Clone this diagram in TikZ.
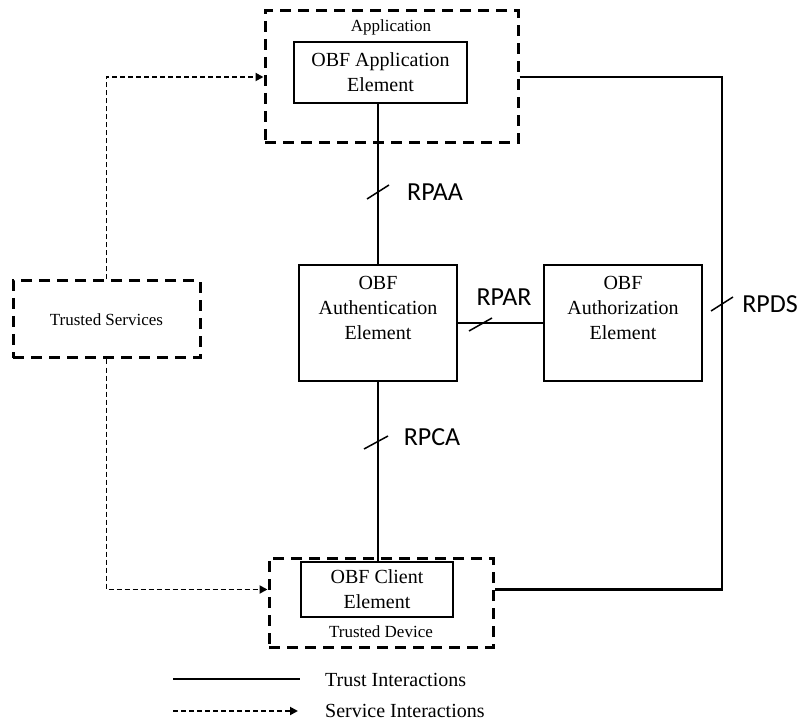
\documentclass[tikz,border=0pt]{standalone}
\usepackage{fontspec}
\setmainfont{Liberation Serif}
\newfontfamily\rplab{Carlito}
\usetikzlibrary{arrows.meta,calc}
\begin{document}
\begin{tikzpicture}[x=1pt,y=-1pt,
  elbox/.style={draw,line width=2pt,inner sep=0pt},
  eltext/.style={align=center,font=\fontsize{20}{25}\selectfont,inner sep=0pt},
  dbox/.style={draw,line width=3pt,dash pattern=on 11pt off 7pt,inner sep=0pt},
  smalltext/.style={font=\fontsize{17}{20}\selectfont,inner sep=0pt},
  trust/.style={line width=2.8pt},
  svc/.style={line width=1.9pt,dash pattern=on 5pt off 3pt,-{Triangle[length=8pt,width=8pt]}},
  tick/.style={line width=1.5pt},
  rp/.style={font=\rplab\fontsize{26}{30}\selectfont,inner sep=0pt}]
\useasboundingbox (0,0) rectangle (804,722);
% containers
\node[dbox,minimum width=253,minimum height=132] (app) at (391.5,77) {};
\node[smalltext] (applab) at (391,27) {Application};
\node[dbox,minimum width=224,minimum height=89] (device) at (381,602.5) {};
\node[smalltext] (devlab) at (381,632) {Trusted Device};
\node[dbox,minimum width=187,minimum height=77] (ts) at (106.5,319.5) {};
\node[smalltext] (tslab) at (106.5,320) {Trusted Services};
% elements
\node[elbox,fill=white,minimum width=173,minimum height=61,eltext] (appel) at (380.5,72.5) {OBF Application\\Element};
\node[elbox,minimum width=158,minimum height=116] (auth) at (378,323) {};
\node[eltext] (authtxt) at (378,308) {OBF\\Authentication\\Element};
\node[elbox,minimum width=158,minimum height=116] (authz) at (623,323) {};
\node[eltext] (authztxt) at (623,308) {OBF\\Authorization\\Element};
\node[elbox,fill=white,minimum width=152,minimum height=55,eltext] (client) at (377,589.5) {OBF Client\\Element};
% trust connectors
\draw[trust] (auth.north) -- (auth.north |- appel.south);
\draw[trust] (auth.south) -- (auth.south |- client.north);
\draw[trust] (auth.east) -- (authz.west);
\coordinate (rpx) at (722,0);
\draw[trust] (app.east) -| (rpx |- client.east) -- (device.east |- client.east);
% service connectors
\draw[svc] (ts.north) |- (app.west);
\draw[svc] (ts.south) |- (device.west |- client.east);
% ticks and labels
\draw[tick] (367,199) -- (389,185);
\node[rp] (rpaa) at (435,192) {RPAA};
\draw[tick] (469,331) -- (492,318);
\node[rp] (rpar) at (504,297) {RPAR};
\draw[tick] (364,449) -- (388,436);
\node[rp] (rpca) at (432,437) {RPCA};
\draw[tick] (711,311) -- (733,297);
\node[rp] (rpds) at (770,304) {RPDS};
% legend
\coordinate (l1a) at (173,679);
\coordinate (l1b) at (300,679);
\coordinate (l2a) at (173,711);
\coordinate (l2b) at (298,711);
\draw[trust] (l1a) -- (l1b);
\draw[svc] (l2a) -- (l2b);
\node[anchor=west,font=\fontsize{20}{24}\selectfont,inner sep=0pt] (leg1) at (325,680) {Trust Interactions};
\node[anchor=west,font=\fontsize{20}{24}\selectfont,inner sep=0pt] (leg2) at (325,711) {Service Interactions};
\end{tikzpicture}
\end{document}
